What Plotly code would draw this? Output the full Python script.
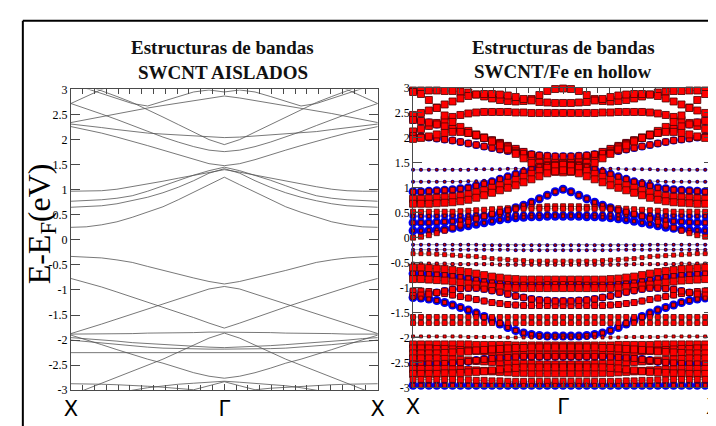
import plotly.graph_objects as go

W, H = 716, 426

# ---------------- text ----------------
title_left = ["Estructuras de bandas", "SWCNT AISLADOS"]
title_right = ["Estructuras de bandas", "SWCNT/Fe en hollow"]
y_label = "E-E<sub>F</sub>(eV)"
k_labels = ["X", "Γ", "X"]
k_label_pos = [0, 0.5, 1]
e_ticks = [3, 2.5, 2, 1.5, 1, 0.5, 0, -0.5, -1, -1.5, -2, -2.5, -3]
e_tick_text = ["3", "2.5", "2", "1.5", "1", "0.5", "0", "-0.5", "-1", "-1.5", "-2", "-2.5", "-3"]

# ---------------- left panel: isolated SWCNT (half path X -> Gamma, 11 k-points) ----------------
left_bands = [
    [0.25, 0.26, 0.30, 0.36, 0.45, 0.55, 0.66, 0.80, 0.95, 1.10, 1.25],
    [0.65, 0.66, 0.68, 0.72, 0.78, 0.85, 0.94, 1.05, 1.18, 1.33, 1.42],
    [0.77, 0.78, 0.80, 0.83, 0.88, 0.97, 1.08, 1.19, 1.29, 1.38, 1.45],
    [0.97, 0.97, 0.98, 1.01, 1.06, 1.11, 1.17, 1.23, 1.29, 1.35, 1.40],
    [2.26, 2.20, 2.13, 2.05, 1.97, 1.88, 1.79, 1.70, 1.60, 1.52, 1.48],
    [2.31, 2.28, 2.24, 2.20, 2.16, 2.13, 2.11, 2.09, 2.07, 2.05, 2.04],
    [2.72, 2.62, 2.51, 2.40, 2.28, 2.16, 2.05, 1.95, 1.86, 1.79, 1.76],
    [2.34, 2.40, 2.46, 2.52, 2.58, 2.63, 2.68, 2.73, 2.78, 2.83, 2.87],
    [2.72, 2.86, 3.00, 3.12, 3.22, 3.30, 3.36, 3.40, 3.42, 3.44, 3.45],
    [3.12, 3.02, 2.92, 2.82, 2.72, 2.67, 2.76, 2.86, 2.95, 2.99, 2.95],
    [3.20, 3.09, 2.97, 2.86, 2.74, 2.60, 2.45, 2.30, 2.15, 2.00, 1.90],
    [-0.33, -0.34, -0.36, -0.40, -0.45, -0.53, -0.61, -0.69, -0.76, -0.83, -0.88],
    [-0.77, -0.85, -0.94, -1.04, -1.14, -1.24, -1.34, -1.44, -1.55, -1.66, -1.76],
    [-1.87, -1.78, -1.68, -1.58, -1.48, -1.38, -1.28, -1.18, -1.08, -0.98, -0.93],
    [-1.88, -1.88, -1.88, -1.87, -1.87, -1.86, -1.86, -1.85, -1.85, -1.84, -1.84],
    [-1.90, -1.99, -2.09, -2.19, -2.29, -2.38, -2.46, -2.56, -2.65, -2.72, -2.76],
    [-1.95, -1.97, -2.00, -2.02, -2.05, -2.07, -2.09, -2.11, -2.13, -2.14, -2.15],
    [-2.00, -2.03, -2.06, -2.09, -2.12, -2.14, -2.16, -2.17, -2.18, -2.18, -2.18],
    [-2.25, -2.25, -2.25, -2.25, -2.25, -2.25, -2.25, -2.25, -2.25, -2.25, -2.25],
    [-3.10, -2.98, -2.86, -2.74, -2.62, -2.50, -2.38, -2.24, -2.10, -1.96, -1.86],
    [-2.87, -2.87, -2.88, -2.89, -2.90, -2.92, -2.94, -2.96, -2.99, -2.91, -2.83],
    [-3.25, -3.20, -3.14, -3.07, -3.00, -2.95, -2.91, -2.88, -2.86, -2.84, -2.82],
]

# ---------------- right panel: SWCNT/Fe (half path X -> Gamma, 20 k-points) ----------------
right_bands = [
    [2.95, 2.95, 2.95, 2.95, 2.94, 2.94, 2.93, 2.91, 2.87, 2.83, 2.79, 2.76, 2.74, 2.73, 2.74, 2.78, 2.86, 2.94, 2.98, 2.99],
    [2.46, 2.50, 2.55, 2.61, 2.67, 2.73, 2.79, 2.84, 2.87, 2.88, 2.88, 2.87, 2.85, 2.82, 2.78, 2.75, 2.72, 2.71, 2.70, 2.70],
    [2.13, 2.18, 2.24, 2.30, 2.36, 2.42, 2.46, 2.49, 2.51, 2.52, 2.52, 2.52, 2.52, 2.51, 2.51, 2.50, 2.50, 2.50, 2.50, 2.50],
    [2.36, 2.34, 2.31, 2.27, 2.23, 2.19, 2.15, 2.10, 2.05, 2.00, 1.95, 1.90, 1.84, 1.78, 1.72, 1.66, 1.60, 1.55, 1.52, 1.51],
    [2.92, 2.88, 2.76, 2.60, 2.45, 2.32, 2.22, 2.14, 2.07, 2.01, 1.95, 1.88, 1.81, 1.73, 1.65, 1.57, 1.50, 1.45, 1.42, 1.41],
    [2.05, 2.03, 2.01, 1.99, 1.97, 1.95, 1.92, 1.89, 1.86, 1.83, 1.80, 1.77, 1.74, 1.71, 1.69, 1.67, 1.65, 1.64, 1.63, 1.63],
    [1.98, 2.00, 2.03, 2.07, 2.10, 2.12, 2.12, 2.10, 2.06, 2.00, 1.93, 1.85, 1.77, 1.68, 1.59, 1.50, 1.42, 1.36, 1.32, 1.31],
    [1.36, 1.36, 1.36, 1.36, 1.36, 1.36, 1.36, 1.36, 1.37, 1.37, 1.37, 1.37, 1.38, 1.38, 1.38, 1.39, 1.39, 1.40, 1.40, 1.40],
    [1.12, 1.12, 1.12, 1.12, 1.12, 1.12, 1.12, 1.13, 1.13, 1.14, 1.15, 1.17, 1.19, 1.22, 1.25, 1.28, 1.31, 1.33, 1.34, 1.35],
    [0.92, 0.92, 0.93, 0.94, 0.95, 0.96, 0.98, 1.00, 1.04, 1.08, 1.12, 1.17, 1.22, 1.27, 1.32, 1.37, 1.42, 1.46, 1.48, 1.49],
    [0.78, 0.78, 0.79, 0.80, 0.81, 0.82, 0.84, 0.87, 0.91, 0.95, 1.00, 1.05, 1.10, 1.16, 1.22, 1.28, 1.34, 1.40, 1.44, 1.46],
    [0.68, 0.68, 0.68, 0.69, 0.70, 0.71, 0.73, 0.76, 0.80, 0.85, 0.90, 0.95, 1.00, 1.05, 1.11, 1.17, 1.23, 1.29, 1.33, 1.35],
    [0.52, 0.52, 0.52, 0.52, 0.52, 0.52, 0.53, 0.54, 0.55, 0.56, 0.57, 0.58, 0.59, 0.60, 0.61, 0.62, 0.62, 0.63, 0.63, 0.63],
    [0.43, 0.43, 0.43, 0.43, 0.44, 0.44, 0.44, 0.44, 0.45, 0.45, 0.45, 0.45, 0.45, 0.46, 0.46, 0.46, 0.46, 0.46, 0.46, 0.46],
    [0.30, 0.30, 0.30, 0.31, 0.32, 0.33, 0.35, 0.37, 0.40, 0.43, 0.46, 0.50, 0.55, 0.60, 0.65, 0.71, 0.78, 0.85, 0.92, 0.97],
    [0.14, 0.14, 0.15, 0.16, 0.17, 0.19, 0.21, 0.24, 0.27, 0.30, 0.33, 0.36, 0.38, 0.40, 0.41, 0.42, 0.42, 0.43, 0.43, 0.43],
    [0.00, 0.02, 0.05, 0.09, 0.14, 0.20, 0.26, 0.32, 0.38, 0.43, 0.48, 0.52, 0.55, 0.57, 0.58, 0.58, 0.58, 0.58, 0.58, 0.58],
    [-0.14, -0.14, -0.14, -0.14, -0.14, -0.14, -0.14, -0.14, -0.14, -0.15, -0.15, -0.15, -0.15, -0.15, -0.15, -0.15, -0.15, -0.15, -0.15, -0.15],
    [-0.24, -0.24, -0.24, -0.24, -0.24, -0.24, -0.24, -0.24, -0.24, -0.24, -0.24, -0.24, -0.24, -0.25, -0.25, -0.25, -0.25, -0.25, -0.25, -0.25],
    [-0.32, -0.32, -0.32, -0.33, -0.34, -0.35, -0.36, -0.37, -0.38, -0.40, -0.42, -0.43, -0.44, -0.45, -0.46, -0.47, -0.47, -0.47, -0.47, -0.47],
    [-0.52, -0.52, -0.52, -0.52, -0.52, -0.53, -0.53, -0.53, -0.53, -0.53, -0.53, -0.54, -0.54, -0.54, -0.54, -0.54, -0.54, -0.54, -0.54, -0.54],
    [-0.60, -0.60, -0.61, -0.62, -0.63, -0.65, -0.67, -0.69, -0.72, -0.75, -0.78, -0.80, -0.82, -0.83, -0.84, -0.84, -0.84, -0.84, -0.84, -0.84],
    [-0.72, -0.72, -0.73, -0.74, -0.75, -0.77, -0.79, -0.82, -0.85, -0.88, -0.90, -0.92, -0.93, -0.94, -0.94, -0.94, -0.94, -0.93, -0.93, -0.93],
    [-0.83, -0.83, -0.84, -0.85, -0.86, -0.88, -0.90, -0.92, -0.94, -0.96, -0.98, -0.99, -1.00, -1.01, -1.01, -1.01, -1.01, -1.01, -1.01, -1.01],
    [-1.07, -1.07, -1.08, -1.10, -1.12, -1.15, -1.18, -1.21, -1.24, -1.27, -1.30, -1.32, -1.34, -1.35, -1.36, -1.36, -1.36, -1.36, -1.36, -1.36],
    [-1.16, -1.15, -1.13, -1.10, -1.07, -1.04, -1.02, -1.01, -1.01, -1.03, -1.06, -1.09, -1.13, -1.17, -1.20, -1.23, -1.25, -1.26, -1.27, -1.27],
    [-1.20, -1.21, -1.23, -1.26, -1.30, -1.35, -1.40, -1.45, -1.51, -1.58, -1.65, -1.73, -1.80, -1.86, -1.91, -1.94, -1.96, -1.97, -1.97, -1.97],
    [-1.59, -1.59, -1.59, -1.59, -1.59, -1.59, -1.59, -1.59, -1.59, -1.59, -1.59, -1.59, -1.59, -1.59, -1.59, -1.59, -1.59, -1.59, -1.59, -1.59],
    [-1.71, -1.71, -1.71, -1.71, -1.71, -1.71, -1.71, -1.71, -1.71, -1.71, -1.71, -1.71, -1.71, -1.71, -1.71, -1.71, -1.71, -1.71, -1.71, -1.71],
    [-1.98, -1.98, -1.98, -1.98, -1.98, -1.98, -1.98, -1.99, -1.99, -1.99, -1.99, -1.99, -2.00, -2.00, -2.00, -2.00, -2.00, -2.00, -2.00, -2.00],
    [-2.14, -2.14, -2.14, -2.14, -2.14, -2.14, -2.14, -2.14, -2.15, -2.15, -2.15, -2.15, -2.15, -2.16, -2.16, -2.16, -2.16, -2.16, -2.16, -2.16],
    [-2.22, -2.22, -2.22, -2.23, -2.23, -2.24, -2.25, -2.26, -2.27, -2.28, -2.29, -2.30, -2.31, -2.32, -2.33, -2.33, -2.34, -2.34, -2.34, -2.34],
    [-2.32, -2.32, -2.32, -2.32, -2.31, -2.30, -2.29, -2.28, -2.26, -2.25, -2.24, -2.23, -2.22, -2.21, -2.21, -2.20, -2.20, -2.20, -2.20, -2.20],
    [-2.42, -2.42, -2.42, -2.42, -2.43, -2.44, -2.45, -2.46, -2.47, -2.48, -2.49, -2.50, -2.51, -2.52, -2.53, -2.53, -2.54, -2.54, -2.54, -2.54],
    [-2.53, -2.53, -2.53, -2.53, -2.52, -2.51, -2.50, -2.48, -2.46, -2.44, -2.42, -2.41, -2.40, -2.39, -2.38, -2.38, -2.38, -2.38, -2.38, -2.38],
    [-2.63, -2.63, -2.63, -2.63, -2.63, -2.64, -2.64, -2.65, -2.66, -2.67, -2.68, -2.69, -2.70, -2.71, -2.71, -2.72, -2.72, -2.72, -2.72, -2.72],
    [-2.73, -2.73, -2.73, -2.73, -2.72, -2.72, -2.71, -2.70, -2.69, -2.68, -2.66, -2.64, -2.62, -2.61, -2.60, -2.60, -2.60, -2.60, -2.60, -2.60],
    [-2.84, -2.84, -2.84, -2.84, -2.84, -2.84, -2.85, -2.85, -2.86, -2.86, -2.87, -2.87, -2.88, -2.88, -2.88, -2.88, -2.88, -2.88, -2.88, -2.88],
    [-2.96, -2.96, -2.96, -2.96, -2.96, -2.96, -2.96, -2.96, -2.96, -2.96, -2.96, -2.96, -2.96, -2.96, -2.96, -2.96, -2.96, -2.96, -2.96, -2.96],
]
# weight of Fe-like (blue circles) and C-like (red squares) character per band, as marker diameter
right_blue_size = [6, 6, 7, 8, 6, 8, 5, 4, 4, 9, 5, 5, 4, 7, 9, 9, 3, 4, 4, 2, 4, 5, 9, 6, 7, 8, 9, 2, 2, 3, 5, 6, 6, 7, 9, 6, 5, 5, 9]
right_red_size = [7, 7, 7, 7, 7, 6, 7, 2, 2, 5, 7, 7, 5, 3, 4, 3, 5, 2, 2, 4, 3, 7, 5, 7, 6, 6, 4, 5, 5, 3, 7, 7, 7, 7, 6, 7, 7, 6, 4]


def mirror(half):
    return half + half[-2::-1]


def path_k(n_half):
    n = 2 * n_half - 1
    return [i / (n - 1) for i in range(n)]


fig = go.Figure()

# left panel lines
kl = path_k(len(left_bands[0]))
lx, ly = [], []
for b in left_bands:
    lx += kl + [None]
    ly += mirror(b) + [None]
fig.add_trace(go.Scatter(x=lx, y=ly, mode="lines", line=dict(color="#555555", width=0.8),
                         xaxis="x", yaxis="y", showlegend=False, hoverinfo="skip"))

# right panel
kr = path_k(len(right_bands[0]))
gx, gy, bx, by, bs, rx, ry, rs = [], [], [], [], [], [], [], []
for b, sb, sr in zip(right_bands, right_blue_size, right_red_size):
    e = mirror(b)
    gx += kr + [None]
    gy += e + [None]
    bx += kr
    by += e
    bs += [sb] * len(e)
    rx += kr
    ry += e
    rs += [sr] * len(e)

fig.add_trace(go.Scatter(x=gx, y=gy, mode="lines", line=dict(color="#9a9a9a", width=1),
                         xaxis="x2", yaxis="y2", showlegend=False, hoverinfo="skip"))
fig.add_trace(go.Scatter(x=bx, y=by, mode="markers",
                         marker=dict(symbol="circle", size=bs, color="#0000ee", opacity=1,
                                     line=dict(width=0)),
                         xaxis="x2", yaxis="y2", showlegend=False, cliponaxis=False, hoverinfo="skip"))
fig.add_trace(go.Scatter(x=rx, y=ry, mode="markers",
                         marker=dict(symbol="square", size=rs, color="#ff0000", opacity=1,
                                     line=dict(width=0.8, color="#4a0000")),
                         xaxis="x2", yaxis="y2", showlegend=False, cliponaxis=False, hoverinfo="skip"))


def px(x):
    return x / W


def py(y):
    return 1 - y / H


axis_common = dict(showline=True, linecolor="#4a4a4a", linewidth=1, mirror="ticks",
                   showgrid=False, zeroline=False, tickcolor="#4a4a4a")

xcommon = dict(axis_common, range=[0, 1], tickmode="array", tickvals=k_label_pos, ticktext=k_labels,
               ticks="inside", ticklen=6, tickfont=dict(family="DejaVu Sans", size=21, color="black"),
               minor=dict(ticks="inside", ticklen=5, tickmode="linear", tick0=0, dtick=1 / 26,
                          tickcolor="#4a4a4a", showgrid=False))
ycommon = dict(axis_common, range=[-3, 3], tickmode="array", tickvals=e_ticks, ticktext=e_tick_text,
               ticks="inside", ticklen=9,
               tickfont=dict(family="Liberation Serif", size=12, color="black"))

fig.update_layout(
    width=W, height=H, margin=dict(l=0, r=0, t=0, b=0),
    paper_bgcolor="white", plot_bgcolor="white",
    xaxis=dict(xcommon, domain=[px(57), px(370)], anchor="y"),
    yaxis=dict(ycommon, domain=[py(388), py(77)], anchor="x"),
    xaxis2=dict(xcommon, domain=[px(406), px(712)], anchor="y2"),
    yaxis2=dict(ycommon, domain=[py(385), py(75.5)], anchor="x2"),
)

tfont = dict(family="Liberation Serif", size=19, color="#111")
ann = []
for txt, yy in zip(title_left, [34, 59]):
    ann.append(dict(x=px(212), y=py(yy), xref="paper", yref="paper", text="<b>" + txt + "</b>",
                    showarrow=False, font=tfont, xanchor="center", yanchor="middle"))
for txt, yy in zip(title_right, [34, 58]):
    ann.append(dict(x=px(559), y=py(yy), xref="paper", yref="paper", text="<b>" + txt + "</b>",
                    showarrow=False, font=tfont, xanchor="center", yanchor="middle"))
ann.append(dict(x=px(27), y=py(216), xref="paper", yref="paper", text=y_label, textangle=-90,
                showarrow=False, font=dict(family="Liberation Serif", size=32, color="black"),
                xanchor="center", yanchor="middle"))
fig.update_layout(annotations=ann)

fig.update_layout(shapes=[
    dict(type="line", xref="paper", yref="paper", x0=px(8), x1=1.02, y0=py(6), y1=py(6),
         line=dict(color="black", width=2)),
    dict(type="line", xref="paper", yref="paper", x0=px(8), x1=px(8), y0=-0.02, y1=py(6),
         line=dict(color="black", width=2)),
])

fig.write_html("out.html")
